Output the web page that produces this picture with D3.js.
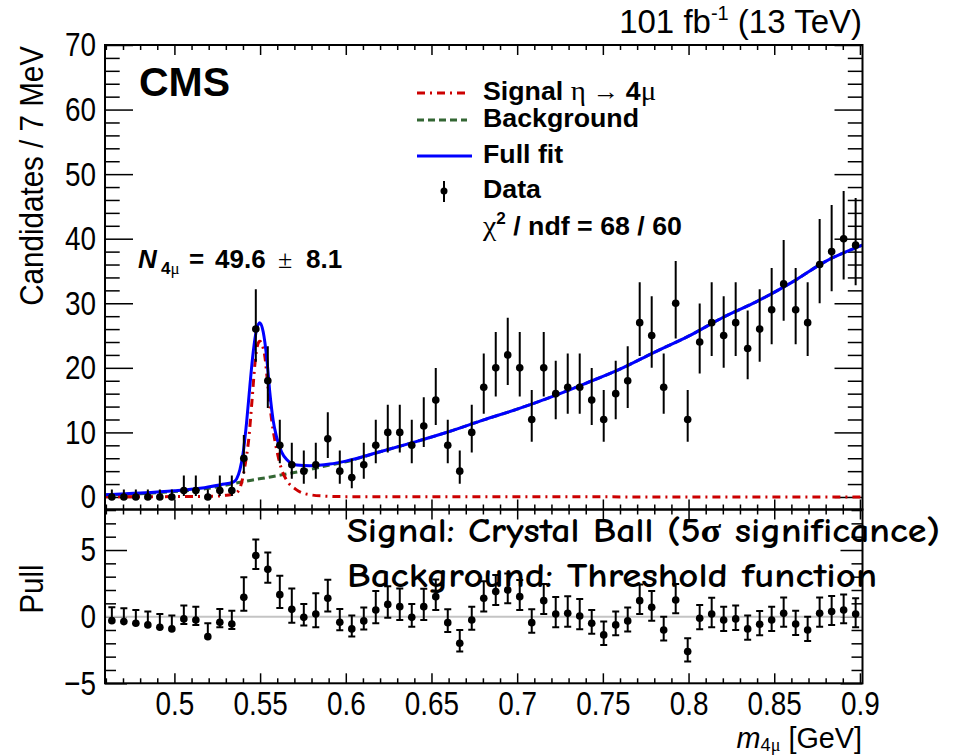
<!DOCTYPE html>
<html><head><meta charset="utf-8">
<script src="https://cdn.jsdelivr.net/npm/d3@7"></script>
<style>body{margin:0;background:#fff} svg{display:block}</style>
</head><body><svg id="c" width="959" height="755"></svg>
<script>
// ---------------- data ----------------
const binCenters = [0.4635,0.4705,0.4775,0.4845,0.4915,0.4985,0.5055,0.5125,0.5195,0.5265,
  0.5335,0.5405,0.5475,0.5545,0.5615,0.5685,0.5755,0.5825,0.5895,0.5965,
  0.6035,0.6105,0.6175,0.6245,0.6315,0.6385,0.6455,0.6525,0.6595,0.6665,
  0.6735,0.6805,0.6875,0.6945,0.7015,0.7085,0.7155,0.7225,0.7295,0.7365,
  0.7435,0.7505,0.7575,0.7645,0.7715,0.7785,0.7855,0.7925,0.7995,0.8065,
  0.8135,0.8205,0.8275,0.8345,0.8415,0.8485,0.8555,0.8625,0.8695,0.8765,
  0.8835,0.8905,0.8975];
const counts = [0,0,0,0,0,0,1,1,0,1,
  1,6,26,18,8,5,4,5,9,4,
  3,5,8,10,10,8,11,15,8,4,
  10,17,20,22,20,12,20,16,17,17,
  15,12,16,18,27,25,17,30,12,24,
  27,25,27,23,26,29,33,29,27,36,
  38,40,39];
const pulls = [-0.30,-0.37,-0.50,-0.62,-0.80,-0.92,-0.17,-0.25,-1.50,-0.42,
  -0.55,1.45,4.58,3.55,1.65,0.55,-0.05,0.20,1.38,-0.42,
  -0.92,-0.32,0.50,0.92,0.75,-0.05,0.75,1.50,-0.45,-2.00,
  -0.25,1.38,1.88,2.00,1.50,-0.45,1.20,0.20,0.25,0.05,
  -0.50,-1.37,-0.62,-0.32,1.20,0.70,-1.00,1.25,-2.62,-0.12,
  0.20,-0.25,-0.17,-0.92,-0.57,-0.25,0.25,-0.55,-1.00,0.25,
  0.38,0.50,0.20];

const fitX = [0.4595,0.48,0.50,0.515,0.527,0.5343,0.5363,0.5382,0.5401,0.5421,0.544,0.546,0.548,0.5498,0.5518,0.554,0.5557,0.5576,0.5596,0.5625,0.5655,0.5713,0.579,0.5907,0.60,0.62,0.64,0.66,0.68,0.70,0.72,0.74,0.76,0.78,0.80,0.82,0.84,0.86,0.88,0.9015];
const fitY = [0.35,0.6,0.95,1.35,1.9,2.3,2.8,4.2,6.8,11.5,17.1,22.5,26.0,27.0,25.6,21.2,16.1,11.9,9.3,7.0,5.8,4.96,4.85,5.1,5.55,7.0,8.5,10.1,11.9,13.6,15.5,17.6,19.8,22.4,24.9,27.8,30.3,33.2,36.5,39.0];

const bkgX = [0.4595,0.48,0.50,0.52,0.534,0.545,0.556,0.567,0.578,0.59,0.60,0.62,0.64,0.66,0.68,0.70,0.72,0.74,0.76,0.78,0.80,0.82,0.84,0.86,0.88,0.9015];
const bkgY = [0.3,0.5,0.85,1.35,2.05,2.6,3.1,3.65,4.2,4.9,5.45,7.0,8.5,10.1,11.9,13.6,15.5,17.6,19.8,22.4,24.9,27.8,30.3,33.2,36.5,39.0];

const sigX = [0.4595,0.50,0.52,0.53,0.535,0.5375,0.5394,0.5414,0.5433,0.5453,0.5472,0.5485,0.5498,0.5512,0.5528,0.5547,0.5567,0.5586,0.5606,0.5625,0.5655,0.5713,0.579,0.589,0.60,0.70,0.9015];
const sigY = [0.03,0.06,0.1,0.25,0.5,1.0,2.4,5.2,8.8,15.0,21.2,23.5,24.1,23.6,21.7,16.8,12.0,8.8,6.2,4.3,2.6,1.1,0.35,0.12,0.05,0.02,0.01];

const mainYTicks = [0,10,20,30,40,50,60,70];
const pullYTicks = [-5,0,5];
const xTicks = [0.5,0.55,0.6,0.65,0.7,0.75,0.8,0.85,0.9];
const xTickLabels = ["0.5","0.55","0.6","0.65","0.7","0.75","0.8","0.85","0.9"];
const xMinorTicks = [0.46,0.47,0.48,0.49,0.51,0.52,0.53,0.54,0.56,0.57,0.58,0.59,0.61,0.62,0.63,0.64,0.66,0.67,0.68,0.69,0.71,0.72,0.73,0.74,0.76,0.77,0.78,0.79,0.81,0.82,0.83,0.84,0.86,0.87,0.88,0.89];
const mainYMinor = [2,4,6,8,12,14,16,18,22,24,26,28,32,34,36,38,42,44,46,48,52,54,56,58,62,64,66,68];
const pullYMinor = [-4,-3,-2,-1,1,2,3,4,6,7,8];

// ---------------- layout ----------------
const L = 105, R = 862.5, T = 45, MID = 509.5, B = 683.3;
const SANS = "'Liberation Sans', Arial, Helvetica, sans-serif";
const SERIF = "'Liberation Serif', 'DejaVu Serif', serif";
const HAND = "'Comic Sans MS','Comic Neue','Purisa',cursive";
const svg = d3.select('#c');
const x = d3.scaleLinear().domain([0.4595, 0.9015]).range([L, R]);
const yM = d3.scaleLinear().domain([-1.94, 70]).range([MID, T]);
const yP = d3.scaleLinear().domain([-5, 8.04]).range([B, MID]);

const defs = svg.append('defs');
defs.append('clipPath').attr('id','clipM').append('rect').attr('x',L).attr('y',T).attr('width',R-L).attr('height',MID-T);
defs.append('clipPath').attr('id','clipP').append('rect').attr('x',L).attr('y',MID).attr('width',R-L).attr('height',B-MID);

function errUp(n){ return n===0 ? 1.147 : Math.sqrt(n+0.75)+1; }
function errLo(n){ return n===0 ? 0 : Math.sqrt(n-0.25); }

function styleAxis(g, sx, fs){
  g.select('.domain').remove();
  g.selectAll('line').attr('stroke','#000').attr('stroke-width',1.5);
  g.selectAll('text').attr('font-size',fs).attr('font-family',SANS).attr('fill','#000')
    .each(function(){
      const t=d3.select(this); const xx=+t.attr('x')||0; const yy=+t.attr('y')||0;
      t.attr('transform',`translate(${xx},${yy}) scale(${sx},1)`).attr('x',0).attr('y',0);
    });
}
function axis(gen, tx, ty, sx=0.82, fs=34){
  const g = svg.append('g').attr('transform',`translate(${tx},${ty})`).call(gen);
  styleAxis(g, sx, fs);
  return g;
}
const xFmt = v => { const i = xTicks.findIndex(t=>Math.abs(t-v)<1e-9); return i>=0 ? xTickLabels[i] : ''; };

// main panel axes
axis(d3.axisLeft(yM).tickValues(mainYTicks).tickSize(-28).tickPadding(9).tickFormat(d3.format('d')), L, 0);
axis(d3.axisLeft(yM).tickValues(mainYMinor).tickSize(-14.7).tickFormat(''), L, 0);
axis(d3.axisRight(yM).tickValues(mainYTicks).tickSize(-28).tickFormat(''), R, 0);
axis(d3.axisRight(yM).tickValues(mainYMinor).tickSize(-14.7).tickFormat(''), R, 0);
axis(d3.axisBottom(x).tickValues(xTicks).tickSize(-10).tickFormat(''), 0, MID);
axis(d3.axisBottom(x).tickValues(xMinorTicks).tickSize(-5).tickFormat(''), 0, MID);
axis(d3.axisTop(x).tickValues(xTicks).tickSize(-10).tickFormat(''), 0, T);
axis(d3.axisTop(x).tickValues(xMinorTicks).tickSize(-5).tickFormat(''), 0, T);

// pull panel axes
axis(d3.axisLeft(yP).tickValues(pullYTicks).tickSize(-22).tickPadding(9).tickFormat(d3.format('d')), L, 0);
axis(d3.axisLeft(yP).tickValues(pullYMinor).tickSize(-11).tickFormat(''), L, 0);
axis(d3.axisRight(yP).tickValues(pullYTicks).tickSize(-22).tickFormat(''), R, 0);
axis(d3.axisRight(yP).tickValues(pullYMinor).tickSize(-11).tickFormat(''), R, 0);
axis(d3.axisBottom(x).tickValues(xTicks).tickSize(-10).tickPadding(8).tickFormat(xFmt), 0, B, 0.845, 33);
axis(d3.axisBottom(x).tickValues(xMinorTicks).tickSize(-5).tickFormat(''), 0, B);
axis(d3.axisTop(x).tickValues(xTicks).tickSize(-10).tickFormat(''), 0, MID);
axis(d3.axisTop(x).tickValues(xMinorTicks).tickSize(-5).tickFormat(''), 0, MID);

// ---------------- curves ----------------
const gM = svg.append('g').attr('clip-path','url(#clipM)');
const line = (xs, ys) => d3.line().curve(d3.curveMonotoneX).x((d,i)=>x(xs[i])).y((d,i)=>yM(ys[i]))(xs);
gM.append('path').attr('d', line(bkgX,bkgY)).attr('fill','none').attr('stroke','#336633').attr('stroke-width',3).attr('stroke-dasharray','7,4');
gM.append('path').attr('d', line(sigX,sigY)).attr('fill','none').attr('stroke','#cc0000').attr('stroke-width',3).attr('stroke-dasharray','8,5,2,5');
gM.append('path').attr('d', line(fitX,fitY)).attr('fill','none').attr('stroke','#0000ff').attr('stroke-width',3);

// data points main
const gD = gM.append('g');
counts.forEach((n,i)=>{
  const cx = x(binCenters[i]);
  gD.append('line').attr('x1',cx).attr('x2',cx).attr('y1',yM(n-errLo(n))).attr('y2',yM(n+errUp(n))).attr('stroke','#000').attr('stroke-width',2);
  gD.append('circle').attr('cx',cx).attr('cy',yM(n)).attr('r',3.8).attr('fill','#000');
});

// ---------------- pull panel ----------------
const gP = svg.append('g').attr('clip-path','url(#clipP)');
gP.append('line').attr('x1',L).attr('x2',R).attr('y1',yP(0)).attr('y2',yP(0)).attr('stroke','#c4c4c4').attr('stroke-width',2);
pulls.forEach((p,i)=>{
  const n = counts[i];
  let up, dn;
  if (p < 0) { up = 1; dn = errLo(n)/errUp(n); } else { dn = 1; up = errUp(n)/errLo(n); }
  const cx = x(binCenters[i]);
  const yt = yP(p+up), yb = yP(p-dn);
  gP.append('line').attr('x1',cx).attr('x2',cx).attr('y1',yb).attr('y2',yt).attr('stroke','#000').attr('stroke-width',2);
  gP.append('line').attr('x1',cx-3.5).attr('x2',cx+3.5).attr('y1',yt).attr('y2',yt).attr('stroke','#000').attr('stroke-width',2);
  if (dn > 0.05) gP.append('line').attr('x1',cx-3.5).attr('x2',cx+3.5).attr('y1',yb).attr('y2',yb).attr('stroke','#000').attr('stroke-width',2);
  gP.append('circle').attr('cx',cx).attr('cy',yP(p)).attr('r',3.8).attr('fill','#000');
});

// frames
svg.append('rect').attr('x',L).attr('y',T).attr('width',R-L).attr('height',MID-T).attr('fill','none').attr('stroke','#000').attr('stroke-width',2);
svg.append('rect').attr('x',L).attr('y',MID).attr('width',R-L).attr('height',B-MID).attr('fill','none').attr('stroke','#000').attr('stroke-width',2);

// ---------------- texts ----------------
function stext(px, py, opts={}){
  const g = svg.append('g').attr('transform',`translate(${px},${py}) rotate(${opts.rot||0}) scale(${opts.sx||1},1)`);
  return g.append('text').attr('font-family',opts.ff||SANS).attr('font-size',opts.fs||30)
    .attr('font-weight',opts.fw||'normal').attr('text-anchor',opts.anchor||'start').attr('fill','#000');
}
// lumi
{
  const t = stext(862, 33, {fs:33, anchor:'end', sx:1.0});
  t.append('tspan').text('101 fb');
  t.append('tspan').attr('font-size',20).attr('dy',-13).text('-1');
  t.append('tspan').attr('dy',13).text(' (13 TeV)');
}
// CMS
stext(139, 96, {fs:41, fw:'bold'}).text('CMS');
// N text (positions of pieces set explicitly)
{
  const t = stext(0, 268, {fs:26, fw:'bold'});
  t.append('tspan').attr('x',138).attr('font-style','italic').text('N');
  t.append('tspan').attr('x',161).attr('font-size',17).attr('dy',6).text('4');
  t.append('tspan').attr('font-size',17).attr('font-family',SERIF).attr('font-weight','normal').text('μ');
  t.append('tspan').attr('x',189).attr('dy',-6).text('=');
  t.append('tspan').attr('x',215).text('49.6');
  t.append('tspan').attr('x',278).attr('font-weight','normal').attr('font-family',SERIF).text('±');
  t.append('tspan').attr('x',306).text('8.1');
}
// legend
{
  const lx1 = 417, lx2 = 467, tx = 483;
  svg.append('line').attr('x1',lx1).attr('x2',lx2).attr('y1',93).attr('y2',93).attr('stroke','#cc0000').attr('stroke-width',3).attr('stroke-dasharray','8,5,2,5');
  svg.append('line').attr('x1',lx1).attr('x2',lx2).attr('y1',120).attr('y2',120).attr('stroke','#336633').attr('stroke-width',3).attr('stroke-dasharray','7,4');
  svg.append('line').attr('x1',lx1).attr('x2',lx2+5).attr('y1',156).attr('y2',156).attr('stroke','#0000ff').attr('stroke-width',3);
  svg.append('line').attr('x1',444).attr('x2',444).attr('y1',181).attr('y2',202).attr('stroke','#000').attr('stroke-width',2);
  svg.append('circle').attr('cx',444).attr('cy',191).attr('r',3.5).attr('fill','#000');
  const o = {fs:25, fw:'bold', sx:1.07};
  const t1 = stext(tx, 100, o);
  t1.append('tspan').text('Signal ');
  t1.append('tspan').attr('font-family',SERIF).attr('font-weight','normal').attr('font-size',27).text('η');
  t1.append('tspan').attr('font-family',SERIF).attr('font-weight','normal').text(' → ');
  t1.append('tspan').text('4');
  t1.append('tspan').attr('font-family',SERIF).attr('font-weight','normal').attr('font-size',27).text('μ');
  stext(tx, 127, o).text('Background');
  stext(tx, 163, o).text('Full fit');
  stext(tx, 198, o).text('Data');
  const t5 = stext(tx, 235, o);
  t5.append('tspan').attr('font-family',SERIF).attr('font-weight','normal').attr('font-size',28).text('χ');
  t5.append('tspan').attr('font-size',16).attr('dy',-11).text('2');
  t5.append('tspan').attr('dy',11).text(' / ndf = 68 / 60');
}
// axis titles
stext(43, 46, {fs:34, rot:-90, anchor:'end', sx:0.87}).text('Candidates / 7 MeV');
stext(43, 589, {fs:34, rot:-90, anchor:'middle', sx:0.87}).text('Pull');
{
  const t = stext(862, 748, {fs:30, anchor:'end', sx:0.96});
  t.append('tspan').attr('font-style','italic').text('m');
  t.append('tspan').attr('font-size',19).attr('dy',3).text('4');
  t.append('tspan').attr('font-size',19).attr('font-family',SERIF).text('μ');
  t.append('tspan').attr('dy',-3).text(' [GeV]');
}
// annotations
svg.append('text').attr('x',347).attr('y',542).attr('font-family',HAND).attr('font-weight','bold')
  .attr('font-size',34).attr('textLength',593).attr('lengthAdjust','spacingAndGlyphs').attr('fill','#000')
  .text('Signal: Crystal Ball (5σ significance)');
svg.append('text').attr('x',347).attr('y',587).attr('font-family',HAND).attr('font-weight','bold')
  .attr('font-size',34).attr('textLength',530).attr('lengthAdjust','spacingAndGlyphs').attr('fill','#000')
  .text('Background: Threshold function');
</script></body></html>
